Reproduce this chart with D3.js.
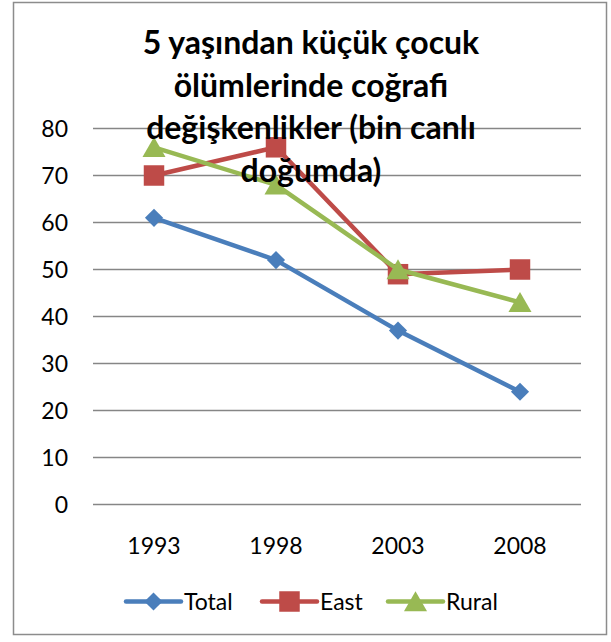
<!DOCTYPE html>
<html>
<head>
<meta charset="utf-8">
<script src="https://cdn.jsdelivr.net/npm/d3@7"></script>
<style>
  body { margin: 0; background: #fff; }
  text { font-family: Lato, "Open Sans", sans-serif; fill: #000; }
</style>
</head>
<body>
<div id="viz"></div>
<script>
(function() {

let years = ["1993", "1998", "2003", "2008"];
let seriesNames = ["Total", "East", "Rural"];
let totalValues = [61, 52, 37, 24];
let eastValues = [70, 76, 49, 50];
let ruralValues = [76, 68, 50, 43];
let yTicks = [0, 10, 20, 30, 40, 50, 60, 70, 80];
let titleLines = ["5 yaşından küçük çocuk", "ölümlerinde coğrafi", "değişkenlikler (bin canlı", "doğumda)"];

let colors = ["#4A7EBB", "#BE4B48", "#98B954"];
let symbols = [d3.symbolDiamond2, d3.symbolSquare, d3.symbolTriangle];
let symbolSizes = [210, 420, 230];
let seriesValues = [totalValues, eastValues, ruralValues];

let canvasWidth = 611;
let canvasHeight = 642;

let svg = d3.select("#viz").append("svg")
  .attr("width", canvasWidth)
  .attr("height", canvasHeight);

// outer chart border
svg.append("rect")
  .attr("x", 13.5).attr("y", 2.5)
  .attr("width", 593).attr("height", 632)
  .attr("fill", "#fff")
  .attr("stroke", "#8c8c8c")
  .attr("stroke-width", 1.5);

let x = d3.scaleBand().domain(years).range([93, 581]);
let y = d3.scaleLinear().domain([0, 80]).range([504.5, 128.5]);

// marker offset so the triangle sits centred on its point
function markerShift(s) {
  return s === 2 ? 3 : 0;
}

// gridlines
svg.append("g").selectAll("line")
  .data(yTicks)
  .enter().append("line")
  .attr("x1", 93).attr("x2", 581)
  .attr("y1", (d) => y(d)).attr("y2", (d) => y(d))
  .attr("stroke", "#868686")
  .attr("stroke-width", 1.3);

// y labels
svg.append("g").selectAll("text")
  .data(yTicks)
  .enter().append("text")
  .attr("x", 68)
  .attr("y", (d) => y(d))
  .attr("dy", "0.36em")
  .attr("text-anchor", "end")
  .attr("font-size", 23)
  .text((d) => d);

// x labels
svg.append("g").selectAll("text")
  .data(years)
  .enter().append("text")
  .attr("x", (d) => x(d) + x.bandwidth() / 2)
  .attr("y", 554)
  .attr("text-anchor", "middle")
  .attr("font-size", 23)
  .text((d) => d);

let line = d3.line()
  .x((d, i) => x(years[i]) + x.bandwidth() / 2)
  .y((d) => y(d));

seriesValues.forEach((vals, s) => {
  let g = svg.append("g");
  g.append("path")
    .attr("d", line(vals))
    .attr("fill", "none")
    .attr("stroke", colors[s])
    .attr("stroke-width", 4.5)
    .attr("stroke-linejoin", "round");
  g.selectAll("path.marker")
    .data(vals)
    .enter().append("path")
    .attr("class", "marker")
    .attr("transform", (d, i) => {
      return "translate(" + (x(years[i]) + x.bandwidth() / 2) + "," + (y(d) + markerShift(s)) + ")";
    })
    .attr("d", d3.symbol().type(symbols[s]).size(symbolSizes[s]))
    .attr("fill", colors[s]);
});

// title
svg.append("g").selectAll("text")
  .data(titleLines)
  .enter().append("text")
  .attr("x", 311)
  .attr("y", (d, i) => 54 + i * 42.7)
  .attr("text-anchor", "middle")
  .attr("font-size", 32)
  .attr("font-weight", "bold")
  .text((d) => d);

// legend
let legendX = [126, 262, 388];
let legend = svg.append("g");
seriesNames.forEach((name, s) => {
  let lx = legendX[s];
  let ly = 601.5;
  legend.append("line")
    .attr("x1", lx).attr("x2", lx + 55)
    .attr("y1", ly).attr("y2", ly)
    .attr("stroke", colors[s])
    .attr("stroke-width", 4.5)
    .attr("stroke-linecap", "round");
  legend.append("path")
    .attr("transform", "translate(" + (lx + 27.5) + "," + (ly + markerShift(s)) + ")")
    .attr("d", d3.symbol().type(symbols[s]).size(symbolSizes[s]))
    .attr("fill", colors[s]);
  legend.append("text")
    .attr("x", lx + 58)
    .attr("y", 610)
    .attr("font-size", 23)
    .text(name);
});

})();
</script>
</body>
</html>
